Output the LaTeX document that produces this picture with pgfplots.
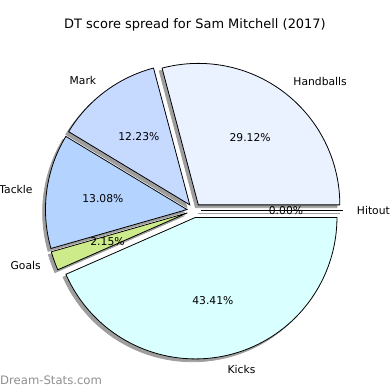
\documentclass[border=0pt]{standalone}
\usepackage{pgfplots}
\pgfplotsset{compat=1.18}
\usepackage{pgfplotstable}
\usepackage{fontspec}
\setmainfont{DejaVu Sans}
\definecolor{cHand}{HTML}{EAF1FF}
\definecolor{cMark}{HTML}{C6D9FF}
\definecolor{cTack}{HTML}{B4D4FF}
\definecolor{cGoal}{HTML}{CDEB8B}
\definecolor{cKick}{HTML}{D9FFFF}
\definecolor{wm}{HTML}{8F8F8F}

\pgfplotstableread{
label value
Hitout 0.00
Handballs 29.12
Mark 12.23
Tackle 13.08
Goals 2.15
Kicks 43.41
}\piedata

\tikzset{
  lab/.style={font=\fontsize{10.8}{13}\selectfont, inner sep=0pt},
  wedge/.style={draw=black, line width=0.8pt, line join=miter},
  shad/.style={draw=black!38, fill=black!38, line width=0.8pt},
}

\newcommand\shadowslice[2]{%
  \pgfmathsetmacro\mA{(#1+#2)/2}%
  \pgfmathsetmacro\ox{0.05*cos(\mA)-0.02}%
  \pgfmathsetmacro\oy{0.05*sin(\mA)-0.02}%
  \edef\tmp{\noexpand\addplot[shad, domain=#1:#2, samples=100] ({\ox+cos(x)},{\oy+sin(x)}) -- (axis cs:\ox,\oy) -- cycle;}\tmp}

\newcommand\pieslice[6]{%
  \pgfmathsetmacro\mA{(#1+#2)/2}%
  \pgfmathsetmacro\ox{0.05*cos(\mA)}%
  \pgfmathsetmacro\oy{0.05*sin(\mA)}%
  \pgfmathsetmacro\lx{1.15*cos(\mA)}%
  \pgfmathsetmacro\ly{1.15*sin(\mA)}%
  \pgfmathsetmacro\px{0.65*cos(\mA)}%
  \pgfmathsetmacro\py{0.65*sin(\mA)}%
  \edef\tmp{\noexpand\addplot[wedge, fill=#3, domain=#1:#2, samples=100] ({\ox+cos(x)},{\oy+sin(x)}) -- (axis cs:\ox,\oy) -- cycle;
    \noexpand\node[lab, anchor=#6] at (axis cs:\lx,\ly) {#4};
    \noexpand\node[lab] at (axis cs:\px,\py) {#5};}\tmp}

\begin{document}%
\begin{tikzpicture}
\pgfplotstablegetelem{0}{value}\of\piedata\let\vA\pgfplotsretval
\pgfplotstablegetelem{1}{value}\of\piedata\let\vB\pgfplotsretval
\pgfplotstablegetelem{2}{value}\of\piedata\let\vC\pgfplotsretval
\pgfplotstablegetelem{3}{value}\of\piedata\let\vD\pgfplotsretval
\pgfplotstablegetelem{4}{value}\of\piedata\let\vE\pgfplotsretval
\pgfplotstablegetelem{5}{value}\of\piedata\let\vF\pgfplotsretval
\pgfmathsetmacro\tot{\vA+\vB+\vC+\vD+\vE+\vF}
\pgfmathsetmacro\bA{360*\vA/\tot}
\pgfmathsetmacro\bB{\bA+360*\vB/\tot}
\pgfmathsetmacro\bC{\bB+360*\vC/\tot}
\pgfmathsetmacro\bD{\bC+360*\vD/\tot}
\pgfmathsetmacro\bE{\bD+360*\vE/\tot}
\pgfmathsetmacro\bF{360}
\begin{axis}[name=ax, hide axis, scale only axis, width=390bp, height=390bp,
  xmin=-1.371, xmax=1.385, ymin=-1.2686, ymax=1.4876, clip=false]
% shadows
\addplot[shad] coordinates {(0.03,-0.02) (1.03,-0.02)};
\shadowslice{\bA}{\bB}
\shadowslice{\bB}{\bC}
\shadowslice{\bC}{\bD}
\shadowslice{\bD}{\bE}
\shadowslice{\bE}{\bF}
% wedges
\addplot[wedge] coordinates {(0.05,0) (1.05,0)};
\node[lab, anchor=west] at (axis cs:1.15,0) {Hitout};
\node[lab] at (axis cs:0.65,0) {0.00\%};
\pieslice{\bA}{\bB}{cHand}{Handballs}{29.12\%}{west}
\pieslice{\bB}{\bC}{cMark}{Mark}{12.23\%}{east}
\pieslice{\bC}{\bD}{cTack}{Tackle}{13.08\%}{east}
\pieslice{\bD}{\bE}{cGoal}{Goals}{2.15\%}{east}
\pieslice{\bE}{\bF}{cKick}{Kicks}{43.41\%}{west}
\node[inner sep=0pt, font=\fontsize{13}{15}\selectfont] at (axis cs:0.007,1.311) {DT score spread for Sam Mitchell (2017)};
\node[inner sep=0pt, anchor=west, text=wm, font=\fontsize{11.7}{14}\selectfont] at (axis cs:-1.371,-1.198) {Dream-Stats.com};
\end{axis}
\pgfresetboundingbox
\path (ax.south west) rectangle (ax.north east);
\end{tikzpicture}%
\end{document}
